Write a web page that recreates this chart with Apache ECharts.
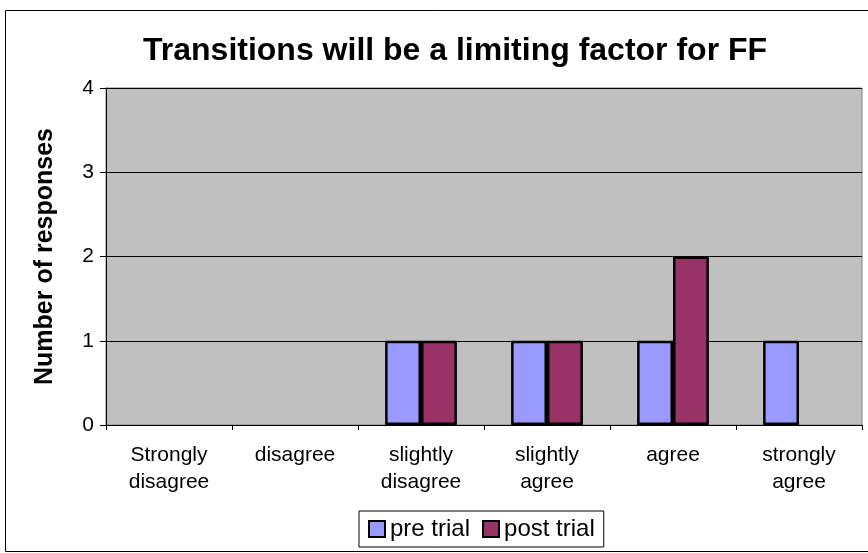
<!DOCTYPE html>
<html>
<head>
  <meta charset="UTF-8">
  <title>Transitions chart</title>
  <style>
    html, body { margin: 0; padding: 0; width: 100%; height: 100%; background: #fff; }
    #main { width: 868px; height: 553px; }
  </style>
  <script src="https://cdn.jsdelivr.net/npm/echarts@6/dist/echarts.min.js"></script>
</head>
<body>
<div id="main"></div>
<script>
  // data
  var categories = ['Strongly\ndisagree', 'disagree', 'slightly\ndisagree', 'slightly\nagree', 'agree', 'strongly\nagree'];
  var preTrial = [0, 0, 1, 1, 1, 1];
  var postTrial = [0, 0, 1, 1, 2, 0];
  var yTicks = [0, 1, 2, 3, 4];

  // zero bars get no outline, like in the original
  function barData(values) {
    return values.map(function (v) {
      return v === 0 ? { value: v, itemStyle: { borderWidth: 0 } } : v;
    });
  }

  var chart = echarts.init(document.getElementById('main'));

  var option = {
    animation: false,
    textStyle: { fontFamily: 'Liberation Sans, Arial, sans-serif', color: '#000' },
    graphic: [
      {
        type: 'rect',
        shape: { x: 5.5, y: 10.5, width: 870, height: 541 },
        style: { fill: 'none', stroke: '#000', lineWidth: 1 },
        z: -1
      }
    ],
    title: {
      text: 'Transitions will be a limiting factor for FF',
      left: 138,
      top: 30,
      textStyle: { fontSize: 32, fontWeight: 'bold', color: '#000', fontFamily: 'Liberation Sans, Arial, sans-serif' }
    },
    legend: {
      bottom: 6,
      left: 359,
      icon: 'rect',
      itemWidth: 16,
      itemHeight: 16,
      itemGap: 12,
      padding: [6, 9, 6, 9],
      borderColor: '#000',
      borderWidth: 1,
      textStyle: { fontSize: 24, color: '#000' },
      data: ['pre trial', 'post trial']
    },
    grid: {
      left: 106,
      right: 6,
      top: 88,
      bottom: 128,
      show: true,
      backgroundColor: '#C0C0C0',
      borderColor: '#808080',
      borderWidth: 1
    },
    xAxis: {
      type: 'category',
      data: categories,
      axisLine: { lineStyle: { color: '#000', width: 1 } },
      axisTick: { show: true, length: 5, lineStyle: { color: '#000' } },
      axisLabel: { fontSize: 21, color: '#000', lineHeight: 27, margin: 17, interval: 0 }
    },
    yAxis: {
      type: 'value',
      min: yTicks[0],
      max: yTicks[yTicks.length - 1],
      interval: 1,
      name: 'Number of responses',
      nameLocation: 'middle',
      nameGap: 48,
      nameTextStyle: { fontSize: 25, fontWeight: 'bold', color: '#000' },
      axisLine: { show: true, lineStyle: { color: '#000' } },
      axisTick: { show: true, length: 6, lineStyle: { color: '#000' } },
      axisLabel: { fontSize: 21, color: '#000', margin: 12 },
      splitLine: { show: true, lineStyle: { color: '#000', width: 1 } }
    },
    series: [
      {
        name: 'pre trial',
        type: 'bar',
        data: barData(preTrial),
        barGap: '0%',
        barCategoryGap: '43%',
        itemStyle: { color: '#9999FF', borderColor: '#000', borderWidth: 2.5 }
      },
      {
        name: 'post trial',
        type: 'bar',
        data: barData(postTrial),
        itemStyle: { color: '#993366', borderColor: '#000', borderWidth: 2.5 }
      }
    ]
  };

  chart.setOption(option);
</script>
</body>
</html>
